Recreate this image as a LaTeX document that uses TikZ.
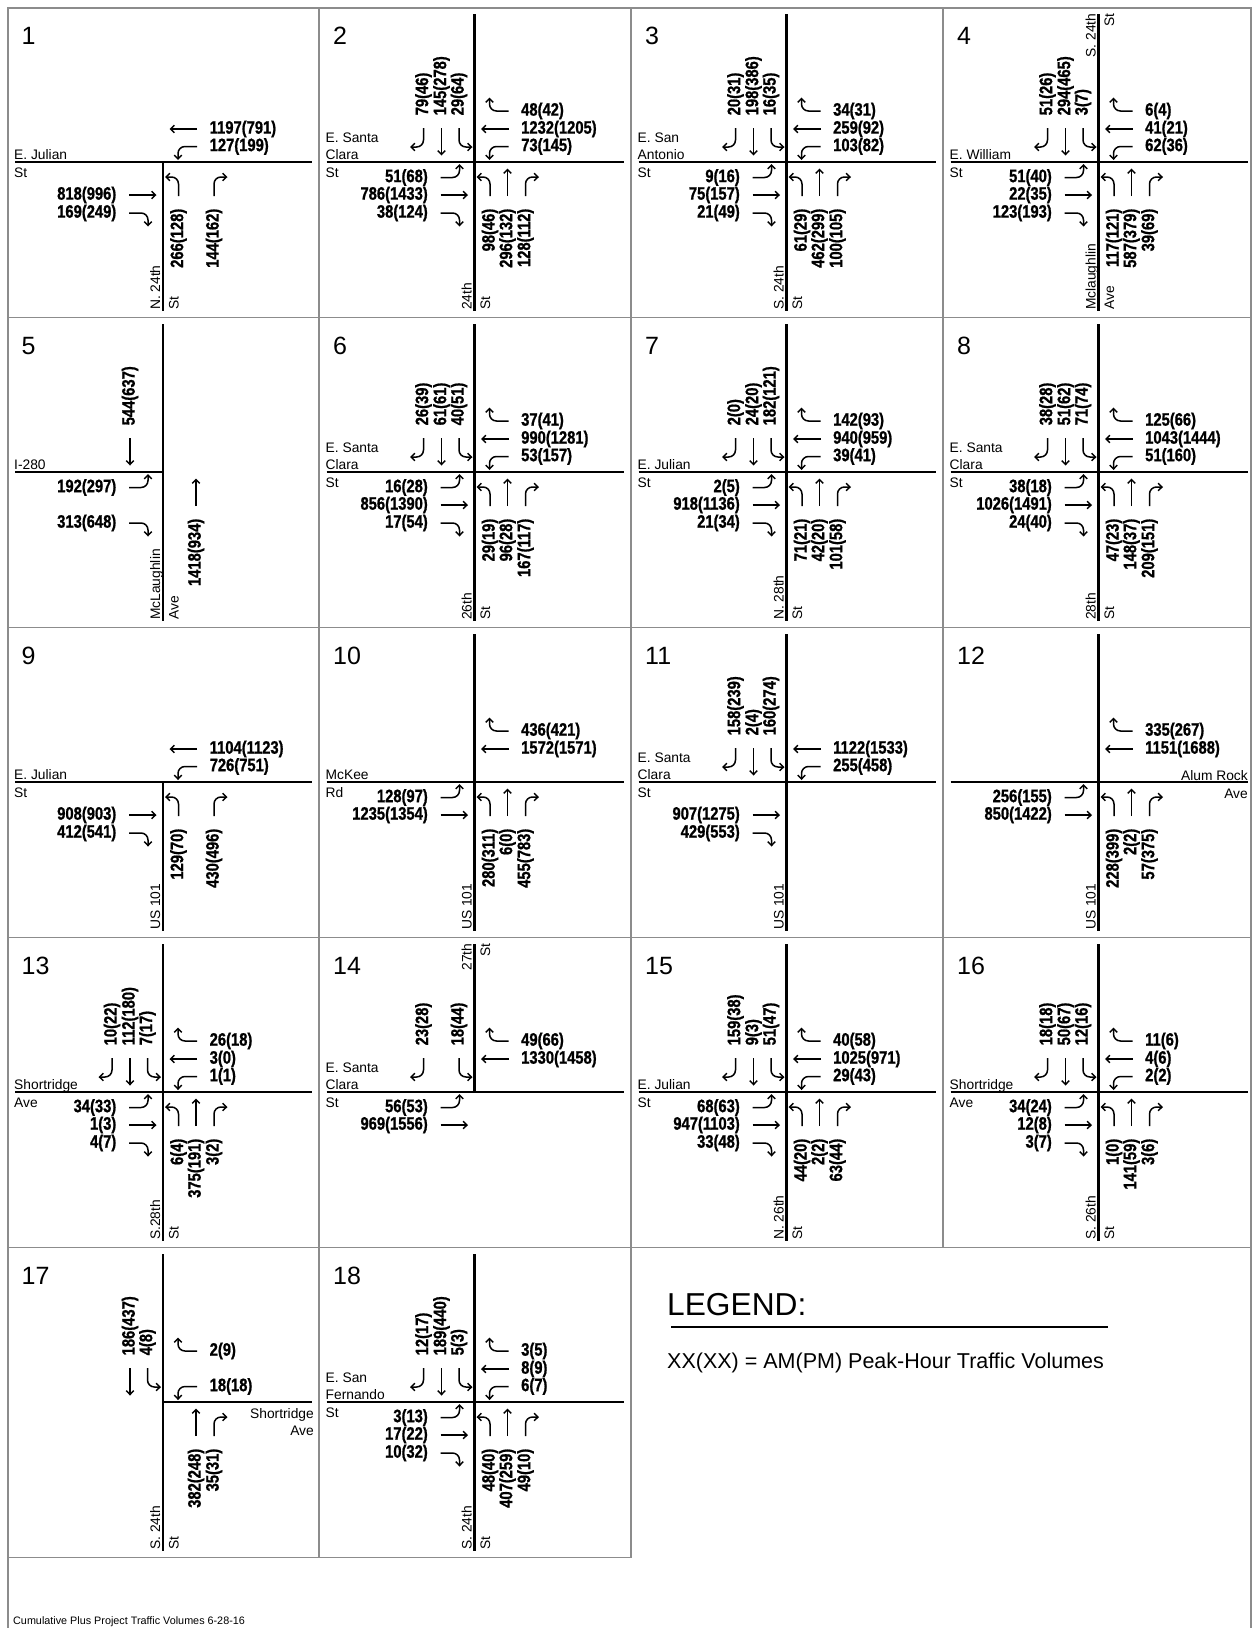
\documentclass[tikz,border=0pt]{standalone}
\usepackage{fontspec}
\setmainfont{Liberation Sans}
\newfontfamily\volfont{Liberation Sans Bold}[FakeStretch=0.82,FakeBold=1]
\usetikzlibrary{arrows.meta}

\newcommand\offlt{15.5}
\newcommand\offth{33}
\newcommand\offrt{51}
% one movement: panel, approach, lane, volume
\newcommand\flow[4]{%
  \begin{scope}[#2]
    \pic[transform shape] {#3};
    \node[volume,#2txt] (p#1#2#3) at (-46.5,\csname off#3\endcsname) {#4};
  \end{scope}}

\begin{document}
\begin{tikzpicture}[
  x=1pt,y=-1pt,
  road/.style={line width=2.3pt},
  frame/.style={black!45,line width=1.8pt},
  lanearrow/.style={line width=1.5pt,-{Straight Barb[length=3.8pt,width=7.5pt]}},
  volume/.style={font=\volfont\fontsize{18}{18}\selectfont,inner sep=0pt},
  street/.style={font=\fontsize{13.8}{14}\selectfont,inner sep=0pt},
  wlab/.style={street,anchor=base west},
  elab/.style={street,anchor=base east},
  vlab/.style={street,rotate=90,anchor=base west},
  vtop/.style={street,rotate=90,anchor=base east},
  panel/.style={font=\fontsize{25}{25}\selectfont,inner sep=0pt,anchor=base west},
  eb/.style={}, wb/.style={rotate=180}, sb/.style={rotate=-90}, nb/.style={rotate=90},
  ebtxt/.style={anchor=east}, wbtxt/.style={anchor=west},
  sbtxt/.style={anchor=west,rotate=90}, nbtxt/.style={anchor=east,rotate=90},
  lt/.pic={\draw[lanearrow] (-34,15.5) -- (-22,15.5) .. controls (-18.1,15.5) and (-15,12.4) .. (-15,8.5) -- (-15,2);},
  th/.pic={\draw[lanearrow] (-34,33) -- (-6.5,33);},
  rt/.pic={\draw[lanearrow] (-34,51) -- (-22,51) .. controls (-18.1,51) and (-15,54.1) .. (-15,58) -- (-15,64.5);}
]
\useasboundingbox (0,0) rectangle (1257,1628);

% grid
\draw[frame] (8,1628) -- (8,8) -- (1251,8) -- (1251,1628);
\foreach \y in {317.5,627.5,937.5,1247.5}
  \draw[frame] (8,\y) -- (1251,\y);
\draw[frame] (8,1557.5) -- (631,1557.5);
\draw[frame] (319,8) -- (319,1557.5);
\draw[frame] (631,8) -- (631,1557.5);
\draw[frame] (943,8) -- (943,1247.5);

% 1
\begin{scope}[shift={(163,162)}]
  \node[panel] (n1) at (-141.5,-118) {1};
  \draw[road] (-148,0) -- (149,0);
  \draw[road] (0,0) -- (0,149);
  \node[wlab] (w1) at (-149,-3) {E. Julian};
  \node[wlab] (w1s) at (-149,15.5) {St};
  \node[vlab] (v1) at (-3,148) {N. 24th};
  \node[vlab] (v1s) at (15.5,148) {St};
  \flow{1}{wb}{th}{1197(791)} \flow{1}{wb}{lt}{127(199)}
  \flow{1}{eb}{th}{818(996)} \flow{1}{eb}{rt}{169(249)}
  \flow{1}{nb}{lt}{266(128)} \flow{1}{nb}{rt}{144(162)}
\end{scope}

% 2
\begin{scope}[shift={(474.5,162)}]
  \node[panel] (n2) at (-141.5,-118) {2};
  \draw[road] (-148,0) -- (149,0);
  \draw[road] (0,-148) -- (0,149);
  \node[wlab] (w2a) at (-149,-20) {E. Santa};
  \node[wlab] (w2) at (-149,-3) {Clara};
  \node[wlab] (w2s) at (-149,15.5) {St};
  \node[vlab] (v2) at (-3,148) {24th};
  \node[vlab] (v2s) at (15.5,148) {St};
  \flow{2}{sb}{rt}{79(46)} \flow{2}{sb}{th}{145(278)} \flow{2}{sb}{lt}{29(64)}
  \flow{2}{wb}{rt}{48(42)} \flow{2}{wb}{th}{1232(1205)} \flow{2}{wb}{lt}{73(145)}
  \flow{2}{eb}{lt}{51(68)} \flow{2}{eb}{th}{786(1433)} \flow{2}{eb}{rt}{38(124)}
  \flow{2}{nb}{lt}{98(46)} \flow{2}{nb}{th}{296(132)} \flow{2}{nb}{rt}{128(112)}
\end{scope}

% 3
\begin{scope}[shift={(786.5,162)}]
  \node[panel] (n3) at (-141.5,-118) {3};
  \draw[road] (-148,0) -- (149,0);
  \draw[road] (0,-148) -- (0,149);
  \node[wlab] (w3a) at (-149,-20) {E. San};
  \node[wlab] (w3) at (-149,-3) {Antonio};
  \node[wlab] (w3s) at (-149,15.5) {St};
  \node[vlab] (v3) at (-3,148) {S. 24th};
  \node[vlab] (v3s) at (15.5,148) {St};
  \flow{3}{sb}{rt}{20(31)} \flow{3}{sb}{th}{198(386)} \flow{3}{sb}{lt}{16(35)}
  \flow{3}{wb}{rt}{34(31)} \flow{3}{wb}{th}{259(92)} \flow{3}{wb}{lt}{103(82)}
  \flow{3}{eb}{lt}{9(16)} \flow{3}{eb}{th}{75(157)} \flow{3}{eb}{rt}{21(49)}
  \flow{3}{nb}{lt}{61(29)} \flow{3}{nb}{th}{462(299)} \flow{3}{nb}{rt}{100(105)}
\end{scope}

% 4
\begin{scope}[shift={(1098.5,162)}]
  \node[panel] (n4) at (-141.5,-118) {4};
  \draw[road] (-148,0) -- (149,0);
  \draw[road] (0,-148) -- (0,149);
  \node[wlab] (w4) at (-149,-3) {E. William};
  \node[wlab] (w4s) at (-149,15.5) {St};
  \node[vtop] (t4) at (-3,-148.5) {S. 24th};
  \node[vtop] (t4s) at (15.5,-148.5) {St};
  \node[vlab] (v4) at (-3,148) {Mclaughlin};
  \node[vlab] (v4s) at (15.5,148) {Ave};
  \flow{4}{sb}{rt}{51(26)} \flow{4}{sb}{th}{294(465)} \flow{4}{sb}{lt}{3(7)}
  \flow{4}{wb}{rt}{6(4)} \flow{4}{wb}{th}{41(21)} \flow{4}{wb}{lt}{62(36)}
  \flow{4}{eb}{lt}{51(40)} \flow{4}{eb}{th}{22(35)} \flow{4}{eb}{rt}{123(193)}
  \flow{4}{nb}{lt}{117(121)} \flow{4}{nb}{th}{587(379)} \flow{4}{nb}{rt}{39(69)}
\end{scope}

% 5
\begin{scope}[shift={(163,472)}]
  \node[panel] (n5) at (-141.5,-118) {5};
  \draw[road] (-148,0) -- (0,0);
  \draw[road] (0,-148) -- (0,149);
  \node[wlab] (w5) at (-149,-3) {I-280};
  \node[vlab] (v5) at (-3,148) {McLaughlin};
  \node[vlab] (v5s) at (15.5,148) {Ave};
  \flow{5}{sb}{th}{544(637)}
  \flow{5}{eb}{lt}{192(297)} \flow{5}{eb}{rt}{313(648)}
  \flow{5}{nb}{th}{1418(934)}
\end{scope}

% 6
\begin{scope}[shift={(474.5,472)}]
  \node[panel] (n6) at (-141.5,-118) {6};
  \draw[road] (-148,0) -- (149,0);
  \draw[road] (0,-148) -- (0,149);
  \node[wlab] (w6a) at (-149,-20) {E. Santa};
  \node[wlab] (w6) at (-149,-3) {Clara};
  \node[wlab] (w6s) at (-149,15.5) {St};
  \node[vlab] (v6) at (-3,148) {26th};
  \node[vlab] (v6s) at (15.5,148) {St};
  \flow{6}{sb}{rt}{26(39)} \flow{6}{sb}{th}{61(61)} \flow{6}{sb}{lt}{40(51)}
  \flow{6}{wb}{rt}{37(41)} \flow{6}{wb}{th}{990(1281)} \flow{6}{wb}{lt}{53(157)}
  \flow{6}{eb}{lt}{16(28)} \flow{6}{eb}{th}{856(1390)} \flow{6}{eb}{rt}{17(54)}
  \flow{6}{nb}{lt}{29(19)} \flow{6}{nb}{th}{96(28)} \flow{6}{nb}{rt}{167(117)}
\end{scope}

% 7
\begin{scope}[shift={(786.5,472)}]
  \node[panel] (n7) at (-141.5,-118) {7};
  \draw[road] (-148,0) -- (149,0);
  \draw[road] (0,-148) -- (0,149);
  \node[wlab] (w7) at (-149,-3) {E. Julian};
  \node[wlab] (w7s) at (-149,15.5) {St};
  \node[vlab] (v7) at (-3,148) {N. 28th};
  \node[vlab] (v7s) at (15.5,148) {St};
  \flow{7}{sb}{rt}{2(0)} \flow{7}{sb}{th}{24(20)} \flow{7}{sb}{lt}{182(121)}
  \flow{7}{wb}{rt}{142(93)} \flow{7}{wb}{th}{940(959)} \flow{7}{wb}{lt}{39(41)}
  \flow{7}{eb}{lt}{2(5)} \flow{7}{eb}{th}{918(1136)} \flow{7}{eb}{rt}{21(34)}
  \flow{7}{nb}{lt}{71(21)} \flow{7}{nb}{th}{42(20)} \flow{7}{nb}{rt}{101(58)}
\end{scope}

% 8
\begin{scope}[shift={(1098.5,472)}]
  \node[panel] (n8) at (-141.5,-118) {8};
  \draw[road] (-148,0) -- (149,0);
  \draw[road] (0,-148) -- (0,149);
  \node[wlab] (w8a) at (-149,-20) {E. Santa};
  \node[wlab] (w8) at (-149,-3) {Clara};
  \node[wlab] (w8s) at (-149,15.5) {St};
  \node[vlab] (v8) at (-3,148) {28th};
  \node[vlab] (v8s) at (15.5,148) {St};
  \flow{8}{sb}{rt}{38(28)} \flow{8}{sb}{th}{51(62)} \flow{8}{sb}{lt}{71(74)}
  \flow{8}{wb}{rt}{125(66)} \flow{8}{wb}{th}{1043(1444)} \flow{8}{wb}{lt}{51(160)}
  \flow{8}{eb}{lt}{38(18)} \flow{8}{eb}{th}{1026(1491)} \flow{8}{eb}{rt}{24(40)}
  \flow{8}{nb}{lt}{47(23)} \flow{8}{nb}{th}{148(37)} \flow{8}{nb}{rt}{209(151)}
\end{scope}

% 9
\begin{scope}[shift={(163,782)}]
  \node[panel] (n9) at (-141.5,-118) {9};
  \draw[road] (-148,0) -- (149,0);
  \draw[road] (0,0) -- (0,149);
  \node[wlab] (w9) at (-149,-3) {E. Julian};
  \node[wlab] (w9s) at (-149,15.5) {St};
  \node[vlab] (v9) at (-3,148) {US 101};
  \flow{9}{wb}{th}{1104(1123)} \flow{9}{wb}{lt}{726(751)}
  \flow{9}{eb}{th}{908(903)} \flow{9}{eb}{rt}{412(541)}
  \flow{9}{nb}{lt}{129(70)} \flow{9}{nb}{rt}{430(496)}
\end{scope}

% 10
\begin{scope}[shift={(474.5,782)}]
  \node[panel] (n10) at (-141.5,-118) {10};
  \draw[road] (-148,0) -- (149,0);
  \draw[road] (0,-148) -- (0,149);
  \node[wlab] (w10) at (-149,-3) {McKee};
  \node[wlab] (w10s) at (-149,15.5) {Rd};
  \node[vlab] (v10) at (-3,148) {US 101};
  \flow{10}{wb}{rt}{436(421)} \flow{10}{wb}{th}{1572(1571)}
  \flow{10}{eb}{lt}{128(97)} \flow{10}{eb}{th}{1235(1354)}
  \flow{10}{nb}{lt}{280(311)} \flow{10}{nb}{th}{6(0)} \flow{10}{nb}{rt}{455(783)}
\end{scope}

% 11
\begin{scope}[shift={(786.5,782)}]
  \node[panel] (n11) at (-141.5,-118) {11};
  \draw[road] (-148,0) -- (149,0);
  \draw[road] (0,-148) -- (0,149);
  \node[wlab] (w11a) at (-149,-20) {E. Santa};
  \node[wlab] (w11) at (-149,-3) {Clara};
  \node[wlab] (w11s) at (-149,15.5) {St};
  \node[vlab] (v11) at (-3,148) {US 101};
  \flow{11}{sb}{rt}{158(239)} \flow{11}{sb}{th}{2(4)} \flow{11}{sb}{lt}{160(274)}
  \flow{11}{wb}{th}{1122(1533)} \flow{11}{wb}{lt}{255(458)}
  \flow{11}{eb}{th}{907(1275)} \flow{11}{eb}{rt}{429(553)}
\end{scope}

% 12
\begin{scope}[shift={(1098.5,782)}]
  \node[panel] (n12) at (-141.5,-118) {12};
  \draw[road] (-148,0) -- (149,0);
  \draw[road] (0,-148) -- (0,149);
  \node[elab] (e12) at (149.5,-2) {Alum Rock};
  \node[elab] (e12s) at (149.5,16) {Ave};
  \node[vlab] (v12) at (-3,148) {US 101};
  \flow{12}{wb}{rt}{335(267)} \flow{12}{wb}{th}{1151(1688)}
  \flow{12}{eb}{lt}{256(155)} \flow{12}{eb}{th}{850(1422)}
  \flow{12}{nb}{lt}{228(399)} \flow{12}{nb}{th}{2(2)} \flow{12}{nb}{rt}{57(375)}
\end{scope}

% 13
\begin{scope}[shift={(163,1092)}]
  \node[panel] (n13) at (-141.5,-118) {13};
  \draw[road] (-148,0) -- (149,0);
  \draw[road] (0,-148) -- (0,149);
  \node[wlab] (w13) at (-149,-3) {Shortridge};
  \node[wlab] (w13s) at (-149,15.5) {Ave};
  \node[vlab] (v13) at (-3,148) {S.28th};
  \node[vlab] (v13s) at (15.5,148) {St};
  \flow{13}{sb}{rt}{10(22)} \flow{13}{sb}{th}{112(180)} \flow{13}{sb}{lt}{7(17)}
  \flow{13}{wb}{rt}{26(18)} \flow{13}{wb}{th}{3(0)} \flow{13}{wb}{lt}{1(1)}
  \flow{13}{eb}{lt}{34(33)} \flow{13}{eb}{th}{1(3)} \flow{13}{eb}{rt}{4(7)}
  \flow{13}{nb}{lt}{6(4)} \flow{13}{nb}{th}{375(191)} \flow{13}{nb}{rt}{3(2)}
\end{scope}

% 14
\begin{scope}[shift={(474.5,1092)}]
  \node[panel] (n14) at (-141.5,-118) {14};
  \draw[road] (-148,0) -- (149,0);
  \draw[road] (0,-148) -- (0,0);
  \node[wlab] (w14a) at (-149,-20) {E. Santa};
  \node[wlab] (w14) at (-149,-3) {Clara};
  \node[wlab] (w14s) at (-149,15.5) {St};
  \node[vtop] (t14) at (-3,-148.5) {27th};
  \node[vtop] (t14s) at (15.5,-148.5) {St};
  \flow{14}{sb}{rt}{23(28)} \flow{14}{sb}{lt}{18(44)}
  \flow{14}{wb}{rt}{49(66)} \flow{14}{wb}{th}{1330(1458)}
  \flow{14}{eb}{lt}{56(53)} \flow{14}{eb}{th}{969(1556)}
\end{scope}

% 15
\begin{scope}[shift={(786.5,1092)}]
  \node[panel] (n15) at (-141.5,-118) {15};
  \draw[road] (-148,0) -- (149,0);
  \draw[road] (0,-148) -- (0,149);
  \node[wlab] (w15) at (-149,-3) {E. Julian};
  \node[wlab] (w15s) at (-149,15.5) {St};
  \node[vlab] (v15) at (-3,148) {N. 26th};
  \node[vlab] (v15s) at (15.5,148) {St};
  \flow{15}{sb}{rt}{159(38)} \flow{15}{sb}{th}{9(3)} \flow{15}{sb}{lt}{51(47)}
  \flow{15}{wb}{rt}{40(58)} \flow{15}{wb}{th}{1025(971)} \flow{15}{wb}{lt}{29(43)}
  \flow{15}{eb}{lt}{68(63)} \flow{15}{eb}{th}{947(1103)} \flow{15}{eb}{rt}{33(48)}
  \flow{15}{nb}{lt}{44(20)} \flow{15}{nb}{th}{2(2)} \flow{15}{nb}{rt}{63(44)}
\end{scope}

% 16
\begin{scope}[shift={(1098.5,1092)}]
  \node[panel] (n16) at (-141.5,-118) {16};
  \draw[road] (-148,0) -- (149,0);
  \draw[road] (0,-148) -- (0,149);
  \node[wlab] (w16) at (-149,-3) {Shortridge};
  \node[wlab] (w16s) at (-149,15.5) {Ave};
  \node[vlab] (v16) at (-3,148) {S. 26th};
  \node[vlab] (v16s) at (15.5,148) {St};
  \flow{16}{sb}{rt}{18(18)} \flow{16}{sb}{th}{50(67)} \flow{16}{sb}{lt}{12(16)}
  \flow{16}{wb}{rt}{11(6)} \flow{16}{wb}{th}{4(6)} \flow{16}{wb}{lt}{2(2)}
  \flow{16}{eb}{lt}{34(24)} \flow{16}{eb}{th}{12(8)} \flow{16}{eb}{rt}{3(7)}
  \flow{16}{nb}{lt}{1(0)} \flow{16}{nb}{th}{141(59)} \flow{16}{nb}{rt}{3(6)}
\end{scope}

% 17
\begin{scope}[shift={(163,1402)}]
  \node[panel] (n17) at (-141.5,-118) {17};
  \draw[road] (0,0) -- (149,0);
  \draw[road] (0,-148) -- (0,149);
  \node[elab] (e17) at (151,16) {Shortridge};
  \node[elab] (e17s) at (151,33) {Ave};
  \node[vlab] (v17) at (-3,148) {S. 24th};
  \node[vlab] (v17s) at (15.5,148) {St};
  \flow{17}{sb}{th}{186(437)} \flow{17}{sb}{lt}{4(8)}
  \flow{17}{wb}{rt}{2(9)} \flow{17}{wb}{lt}{18(18)}
  \flow{17}{nb}{th}{382(248)} \flow{17}{nb}{rt}{35(31)}
\end{scope}

% 18
\begin{scope}[shift={(474.5,1402)}]
  \node[panel] (n18) at (-141.5,-118) {18};
  \draw[road] (-148,0) -- (149,0);
  \draw[road] (0,-148) -- (0,149);
  \node[wlab] (w18a) at (-149,-20) {E. San};
  \node[wlab] (w18) at (-149,-3) {Fernando};
  \node[wlab] (w18s) at (-149,15.5) {St};
  \node[vlab] (v18) at (-3,148) {S. 24th};
  \node[vlab] (v18s) at (15.5,148) {St};
  \flow{18}{sb}{rt}{12(17)} \flow{18}{sb}{th}{189(440)} \flow{18}{sb}{lt}{5(3)}
  \flow{18}{wb}{rt}{3(5)} \flow{18}{wb}{th}{8(9)} \flow{18}{wb}{lt}{6(7)}
  \flow{18}{eb}{lt}{3(13)} \flow{18}{eb}{th}{17(22)} \flow{18}{eb}{rt}{10(32)}
  \flow{18}{nb}{lt}{48(40)} \flow{18}{nb}{th}{407(259)} \flow{18}{nb}{rt}{49(10)}
\end{scope}

% legend
\node[anchor=base west,inner sep=0pt,font=\fontsize{31.7}{32}\selectfont] (leg) at (667,1315) {LEGEND:};
\coordinate (ul1) at (671,1327);
\coordinate (ul2) at (1108,1327);
\draw[line width=2pt] (ul1) -- (ul2);
\node[anchor=base west,inner sep=0pt,font=\fontsize{21.5}{22}\selectfont] (legtxt) at (667,1368) {XX(XX) = AM(PM) Peak-Hour Traffic Volumes};
\node[anchor=base west,inner sep=0pt,font=\fontsize{10.8}{11}\selectfont] (foot) at (13,1624) {Cumulative Plus Project Traffic Volumes 6-28-16};
\end{tikzpicture}
\end{document}
